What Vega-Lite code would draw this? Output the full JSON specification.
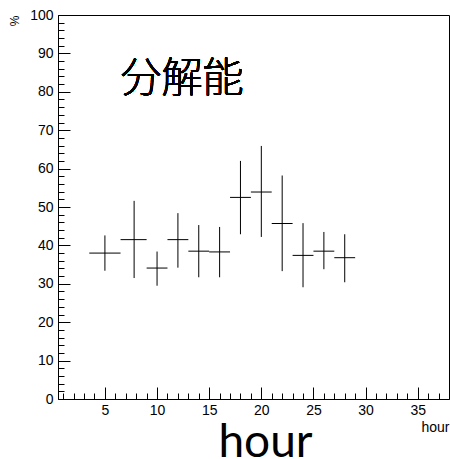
{
  "$schema": "https://vega.github.io/schema/vega-lite/v6.json",
  "autosize": {"type": "none"},
  "padding": {"left": 58, "top": 15, "right": 1, "bottom": 60},
  "width": 391,
  "height": 384,
  "background": "white",
  "config": {
    "view": {"stroke": "#000000", "strokeWidth": 1},
    "axis": {"domain": false, "grid": false, "tickColor": "#000000", "labelColor": "#000000", "labelFont": "Liberation Sans", "labelFontSize": 14, "titleFont": "Liberation Sans", "titleColor": "#000000", "titleFontWeight": "normal"}
  },
  "data": {"values": [
    {"hour": 5, "lo": 3.5, "hi": 6.5, "pct": 38.0, "pmin": 33.4, "pmax": 42.6},
    {"hour": 7.8, "lo": 6.5, "hi": 9, "pct": 41.5, "pmin": 31.5, "pmax": 51.6},
    {"hour": 10, "lo": 9, "hi": 11, "pct": 34.1, "pmin": 29.5, "pmax": 38.4},
    {"hour": 12, "lo": 11, "hi": 13, "pct": 41.5, "pmin": 34.2, "pmax": 48.4},
    {"hour": 14, "lo": 13, "hi": 15, "pct": 38.5, "pmin": 31.7, "pmax": 45.3},
    {"hour": 16, "lo": 15, "hi": 17, "pct": 38.3, "pmin": 31.7, "pmax": 44.8},
    {"hour": 18, "lo": 17, "hi": 19, "pct": 52.5, "pmin": 42.9, "pmax": 62.0},
    {"hour": 20, "lo": 19, "hi": 21, "pct": 53.9, "pmin": 42.2, "pmax": 65.9},
    {"hour": 22, "lo": 21, "hi": 23, "pct": 45.7, "pmin": 33.3, "pmax": 58.2},
    {"hour": 24, "lo": 23, "hi": 25, "pct": 37.4, "pmin": 29.1, "pmax": 45.8},
    {"hour": 26, "lo": 25, "hi": 27, "pct": 38.5, "pmin": 33.8, "pmax": 43.5},
    {"hour": 28, "lo": 27, "hi": 29, "pct": 36.8, "pmin": 30.4, "pmax": 42.9}
  ]},
  "layer": [
    {
      "mark": {"type": "rule", "color": "#000000", "strokeWidth": 1},
      "encoding": {
        "x": {"field": "hour", "type": "quantitative", "scale": {"domain": [0.5, 38], "nice": false, "zero": false},
          "axis": {"orient": "bottom", "values": [5, 10, 15, 20, 25, 30, 35], "tickSize": -12, "labelPadding": 16,
            "title": "hour", "titleFont": "Lato", "titleFontSize": 46, "titleFontWeight": "normal", "titleX": 207, "titleY": 57, "titleBaseline": "alphabetic", "titleAlign": "center", "titleAnchor": null}},
        "y": {"field": "pmin", "type": "quantitative", "scale": {"domain": [0, 100], "nice": false, "zero": true},
          "axis": {"orient": "left", "values": [0, 10, 20, 30, 40, 50, 60, 70, 80, 90, 100], "tickSize": -12, "labelPadding": 17,
            "title": "%", "titleFontSize": 12, "titleAngle": -90, "titleX": -44, "titleY": 0, "titleAlign": "right", "titleBaseline": "middle", "titleAnchor": null}},
        "y2": {"field": "pmax"}
      }
    },
    {
      "mark": {"type": "rule", "color": "#000000", "strokeWidth": 1},
      "encoding": {
        "x": {"field": "lo", "type": "quantitative",
          "axis": {"orient": "bottom", "values": [1,2,3,4,5,6,7,8,9,10,11,12,13,14,15,16,17,18,19,20,21,22,23,24,25,26,27,28,29,30,31,32,33,34,35,36,37,38], "tickSize": -6, "labels": false,
            "title": "hour", "titleFontSize": 14, "titleX": 391, "titleY": 32, "titleAlign": "right", "titleBaseline": "alphabetic", "titleAnchor": null}},
        "x2": {"field": "hi"},
        "y": {"field": "pct", "type": "quantitative",
          "axis": {"orient": "left", "values": [0,2,4,6,8,10,12,14,16,18,20,22,24,26,28,30,32,34,36,38,40,42,44,46,48,50,52,54,56,58,60,62,64,66,68,70,72,74,76,78,80,82,84,86,88,90,92,94,96,98,100], "tickSize": -6, "labels": false, "title": null}}
      }
    },
    {
      "mark": {"type": "text", "font": "Noto Sans CJK JP", "fontSize": 41, "fontWeight": 300, "color": "#000000", "align": "center", "baseline": "middle"},
      "encoding": {
        "x": {"datum": 12.4, "type": "quantitative", "axis": null},
        "y": {"datum": 83.2, "type": "quantitative", "axis": null},
        "text": {"value": "分解能"}
      }
    }
  ],
  "resolve": {"axis": {"x": "independent", "y": "independent"}}
}
